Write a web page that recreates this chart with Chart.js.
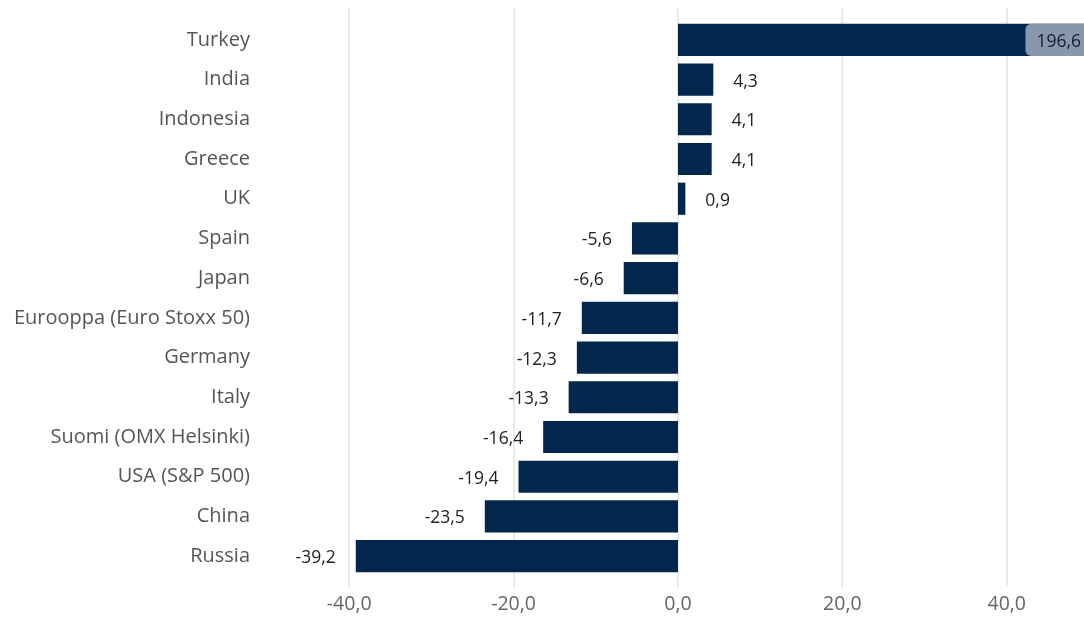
<!DOCTYPE html>
<html>
<head>
<meta charset="utf-8">
<script src="https://cdn.jsdelivr.net/npm/chart.js@4"></script>
<style>
html,body{margin:0;padding:0;background:#fff;}
#wrap{width:1084px;height:620px;}
</style>
</head>
<body>
<div id="wrap"><canvas id="c" width="1084" height="620"></canvas></div>
<script>
const categories = ["Turkey","India","Indonesia","Greece","UK","Spain","Japan","Eurooppa (Euro Stoxx 50)","Germany","Italy","Suomi (OMX Helsinki)","USA (S&P 500)","China","Russia"];
const values = [196.6, 4.3, 4.1, 4.1, 0.9, -5.6, -6.6, -11.7, -12.3, -13.3, -16.4, -19.4, -23.5, -39.2];
const xTicks = [-40, -20, 0, 20, 40];

const fmt = v => v.toFixed(1).replace('.', ',');
const FONT = '"Open Sans", "Noto Sans", sans-serif';

const gridPlugin = {
  id: 'grid',
  beforeDatasetsDraw(chart) {
    const {ctx, chartArea, scales} = chart;
    ctx.save();
    ctx.strokeStyle = '#e6e6e6';
    ctx.lineWidth = 1.6;
    xTicks.forEach(t => {
      const x = Math.round(scales.x.getPixelForValue(t));
      ctx.beginPath();
      ctx.moveTo(x, chartArea.top - 12);
      ctx.lineTo(x, chartArea.bottom + 11);
      ctx.stroke();
    });
    ctx.restore();
  }
};

const labelPlugin = {
  id: 'labels',
  afterDatasetsDraw(chart) {
    const {ctx, chartArea, scales} = chart;
    const meta = chart.getDatasetMeta(0);
    ctx.save();
    ctx.font = '17.5px ' + FONT;
    ctx.textBaseline = 'middle';
    meta.data.forEach((bar, i) => {
      const v = values[i];
      const txt = fmt(v);
      const y = bar.y + 2;
      if (v > scales.x.max) {
        const h = bar.height;
        const w = ctx.measureText(txt).width + 14;
        const x0 = chartArea.right - w;
        ctx.fillStyle = '#8798ad';
        ctx.beginPath();
        ctx.roundRect(x0, bar.y - h / 2, w + 6, h, 6);
        ctx.fill();
        ctx.fillStyle = '#1a1a2e';
        ctx.textAlign = 'right';
        ctx.fillText(txt, chartArea.right - 3, y);
      } else if (v >= 0) {
        ctx.fillStyle = '#222';
        ctx.textAlign = 'left';
        ctx.fillText(txt, bar.x + 20, y);
      } else {
        ctx.fillStyle = '#222';
        ctx.textAlign = 'right';
        ctx.fillText(txt, bar.x - 20, y);
      }
    });
    ctx.restore();
  }
};

new Chart(document.getElementById('c'), {
  type: 'bar',
  data: {
    labels: categories,
    datasets: [{
      data: values,
      backgroundColor: '#01274d',
      borderWidth: 0,
      barPercentage: 0.81,
      categoryPercentage: 1.0
    }]
  },
  options: {
    indexAxis: 'y',
    responsive: false,
    animation: false,
    layout: {padding: {top: 20, right: 0, bottom: 0, left: 0}},
    plugins: {legend: {display: false}, tooltip: {enabled: false}},
    scales: {
      x: {
        min: -50,
        max: 49.4,
        afterBuildTicks(scale) { scale.ticks = xTicks.map(v => ({value: v})); },
        afterFit(scale) { scale.height = 44; scale.paddingLeft = 0; scale.paddingRight = 0; },
        grid: {display: false, drawTicks: false},
        border: {display: false},
        ticks: {
          padding: 17,
          color: '#666',
          font: {family: FONT, size: 19.5},
          callback: v => fmt(v)
        }
      },
      y: {
        grid: {display: false, drawTicks: false},
        border: {display: false},
        afterFit(scale) { scale.width = 267; scale.paddingTop = 0; scale.paddingBottom = 0; },
        ticks: {
          padding: 17,
          color: '#555',
          font: {family: FONT, size: 20},
          autoSkip: false
        }
      }
    }
  },
  plugins: [gridPlugin, labelPlugin]
});
</script>
</body>
</html>
